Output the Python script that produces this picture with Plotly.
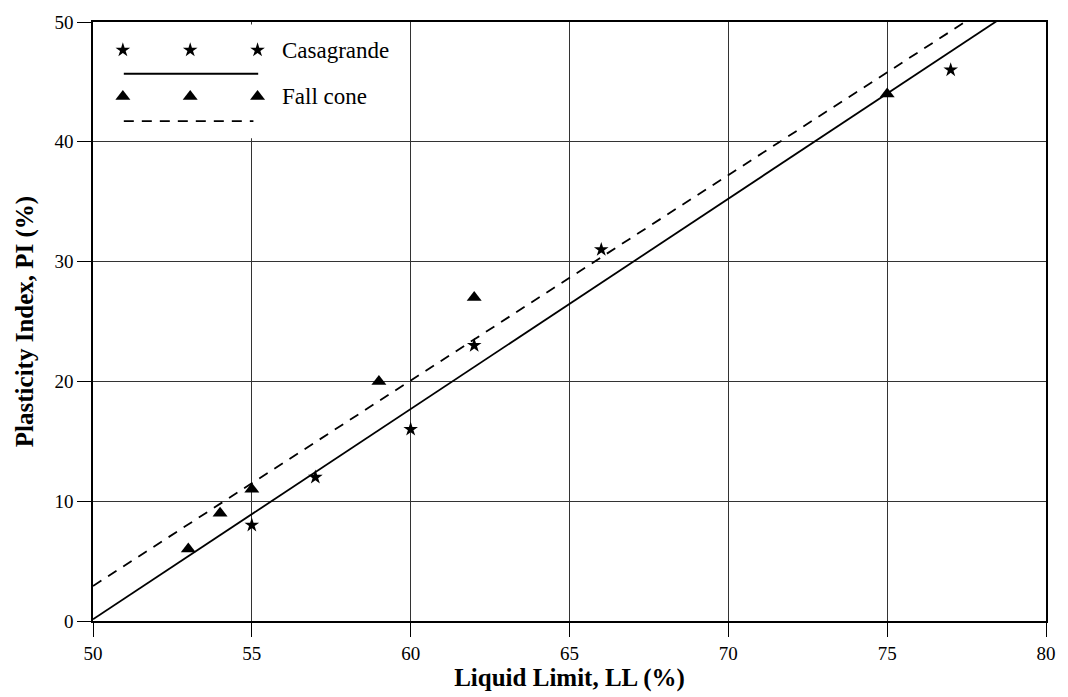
import numpy as np
import plotly.graph_objects as go

# ---- data ----
casa_ll = [55, 57, 60, 62, 66, 77]
casa_pi = [8, 12, 16, 23, 31, 46]
cone_ll = [53, 54, 55, 59, 62, 75]
cone_pi = [6, 9, 11, 20, 27, 44]
x_ticks = [50, 55, 60, 65, 70, 75, 80]
y_ticks = [0, 10, 20, 30, 40, 50]
series_names = ["Casagrande", "Fall cone"]

# least-squares fit lines
casa_fit = np.polyfit(casa_ll, casa_pi, 1)
cone_fit = np.polyfit(cone_ll, cone_pi, 1)
line_x = np.array([x_ticks[0], x_ticks[-1]], dtype=float)

FONT = "Liberation Serif"
STAR = dict(symbol="star", size=11, color="black")
TRI = dict(symbol="triangle-up", size=13, color="black")
fig = go.Figure()

# regression lines
fig.add_trace(go.Scatter(x=line_x, y=np.polyval(casa_fit, line_x), mode="lines",
                         line=dict(color="black", width=1.8), hoverinfo="skip"))
fig.add_trace(go.Scatter(x=line_x, y=np.polyval(cone_fit, line_x), mode="lines",
                         line=dict(color="black", width=1.8, dash="10px,8px"), hoverinfo="skip"))
# data points
fig.add_trace(go.Scatter(x=casa_ll, y=casa_pi, mode="markers", name=series_names[0], marker=STAR))
fig.add_trace(go.Scatter(x=cone_ll, y=cone_pi, mode="markers", name=series_names[1], marker=TRI))

# ---- hand-drawn legend (old style: three symbols above a line sample) ----
lg_sym_x = [50.94, 53.06, 55.18]
fig.add_shape(type="rect", xref="x", yref="y", x0=50.02, x1=59.7, y0=40.3, y1=49.8,
              fillcolor="white", line=dict(width=0), layer="between")
fig.add_trace(go.Scatter(x=lg_sym_x, y=[47.66] * 3, mode="markers", marker=STAR, hoverinfo="skip"))
fig.add_trace(go.Scatter(x=[50.97, 55.2], y=[45.68] * 2, mode="lines",
                         line=dict(color="black", width=1.8), hoverinfo="skip"))
fig.add_trace(go.Scatter(x=lg_sym_x, y=[43.79] * 3, mode="markers", marker=TRI, hoverinfo="skip"))
fig.add_trace(go.Scatter(x=[50.97, 55.05], y=[41.72] * 2, mode="lines",
                         line=dict(color="black", width=1.8, dash="10px,8px"), hoverinfo="skip"))
for name, yv in zip(series_names, [47.66, 43.79]):
    fig.add_annotation(x=55.9, y=yv, xref="x", yref="y", text=name, showarrow=False,
                       xanchor="left", yanchor="middle",
                       font=dict(family=FONT, size=23, color="black"))

axis_common = dict(showline=True, linecolor="black", linewidth=1.5, mirror=True,
                   ticks="outside", ticklen=14, tickwidth=1, tickcolor="black",
                   showgrid=True, gridcolor="#333333", gridwidth=1, zeroline=False,
                   tickfont=dict(family=FONT, size=19, color="black"))

fig.update_layout(
    width=1068, height=697,
    margin=dict(l=93, r=14, t=16, b=74),
    paper_bgcolor="white", plot_bgcolor="white",
    showlegend=False,
    font=dict(family=FONT, color="black"),
    xaxis=dict(range=[x_ticks[0], x_ticks[-1]], tickvals=x_ticks,
               title=dict(text="<b>Liquid Limit, LL (%)</b>", standoff=4,
                          font=dict(family=FONT, size=25, color="black")),
               **axis_common),
    yaxis=dict(range=[y_ticks[0], y_ticks[-1]], tickvals=y_ticks,
               title=dict(text="<b>Plasticity Index, PI (%)</b>", standoff=14,
                          font=dict(family=FONT, size=25, color="black")),
               **axis_common),
)

fig.write_html("out.html")
